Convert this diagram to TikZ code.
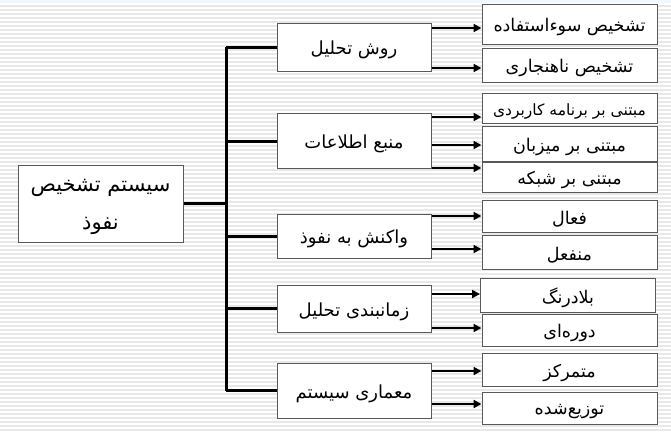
\documentclass[tikz,border=0pt]{standalone}
\usepackage{fontspec}
\usepackage{tikz}
\usetikzlibrary{arrows.meta}
\TeXXeTstate=1
\newfontfamily\arabicfont[Script=Arabic]{DejaVu Sans}
\def\fa#1{\raisebox{-3pt}[\height][\depth]{\arabicfont\beginR #1\endR}}

\tikzset{
	box/.style={draw=black!65, line width=1pt, fill=white, inner sep=0pt},
	midbox/.style={box, minimum width=154pt, font=\fontsize{18}{21}\selectfont},
	leafbox/.style={box, minimum width=175pt, font=\fontsize{17.5}{20}\selectfont},
	trunk/.style={line width=3pt, black},
	branch/.style={line width=2.8pt, black, -{Triangle[length=8pt,width=8pt]}},
	stripe/.style={line width=1.4pt, color=black!9}
}

\begin{document}
\begin{tikzpicture}[x=1pt, y=-1pt]
		%%%%% START %%%%%
		
		\useasboundingbox (0, 0) rectangle (671, 432);
		\fill[white] (0, 0) rectangle (671, 432);
		\foreach \y in {6, 10, ..., 430}
			\draw[stripe] (0, \y) -- (671, \y);
		\fill[cyan!6] (0, 0) rectangle (671, 3);
		
		\node[box, minimum width=165pt, minimum height=77pt, align=center, font=\fontsize{21}{25}\selectfont] (ids) at (100.5, 203.5) {\fa{سیستم تشخیص}\\[13pt]\fa{نفوذ}};
		
		\node[midbox, minimum height=48pt] (method) at (354, 47) {\fa{روش تحلیل}};
		\node[midbox, minimum height=55pt] (source) at (354, 141) {\fa{منبع اطلاعات}};
		\node[midbox, minimum height=44pt] (response) at (354, 236) {\fa{واکنش به نفوذ}};
		\node[midbox, minimum height=47pt] (timing) at (354, 308.5) {\fa{زمانبندی تحلیل}};
		\node[midbox, minimum height=55pt] (arch) at (354, 390.5) {\fa{معماری سیستم}};
		
		\node[leafbox, minimum height=40pt] (misuse) at (569.5, 24) {\fa{تشخیص سوءاستفاده}};
		\node[leafbox, minimum height=34pt] (anomaly) at (569.5, 65) {\fa{تشخیص ناهنجاری}};
		\node[leafbox, minimum height=30pt, font=\fontsize{15.5}{18}\selectfont] (app) at (569.5, 108) {\fa{مبتنی بر برنامه کاربردی}};
		\node[leafbox, minimum height=35pt] (host) at (569.5, 143.5) {\fa{مبتنی بر میزبان}};
		\node[leafbox, minimum height=30pt] (net) at (569.5, 177) {\fa{مبتنی بر شبکه}};
		\node[leafbox, minimum height=32pt] (active) at (569.5, 216) {\fa{فعال}};
		\node[leafbox, minimum height=34pt] (passive) at (569.5, 252) {\fa{منفعل}};
		\node[leafbox, minimum height=34pt] (realtime) at (568, 295) {\fa{بلادرنگ}};
		\node[leafbox, minimum height=32pt] (periodic) at (569.5, 330) {\fa{دوره‌ای}};
		\node[leafbox, minimum height=33pt] (central) at (569.5, 369.5) {\fa{متمرکز}};
		\node[leafbox, minimum height=32pt] (distrib) at (569.5, 408) {\fa{توزیع‌شده}};
		
		\coordinate (spine) at (226, 203.5);
		\draw[trunk] (ids.east) -- (spine);
		\draw[trunk] (spine |- method.west) -- (spine |- arch.west);
		\foreach \m in {method, source, response, timing, arch}
			\draw[trunk] (spine |- \m.west) -- (\m.west);
		
		\foreach \m/\r/\s in {method/misuse/-4, method/anomaly/-3, source/app/-9, source/host/-1.5, source/net/9, response/active/0, response/passive/3, timing/realtime/1, timing/periodic/2, arch/central/-1.5, arch/distrib/4}
			\draw[branch] ([yshift=\s pt]\r.west -| \m.east) -- ([yshift=\s pt]\r.west);
		
		%%%%% END %%%%%
	\end{tikzpicture}
\end{document}
